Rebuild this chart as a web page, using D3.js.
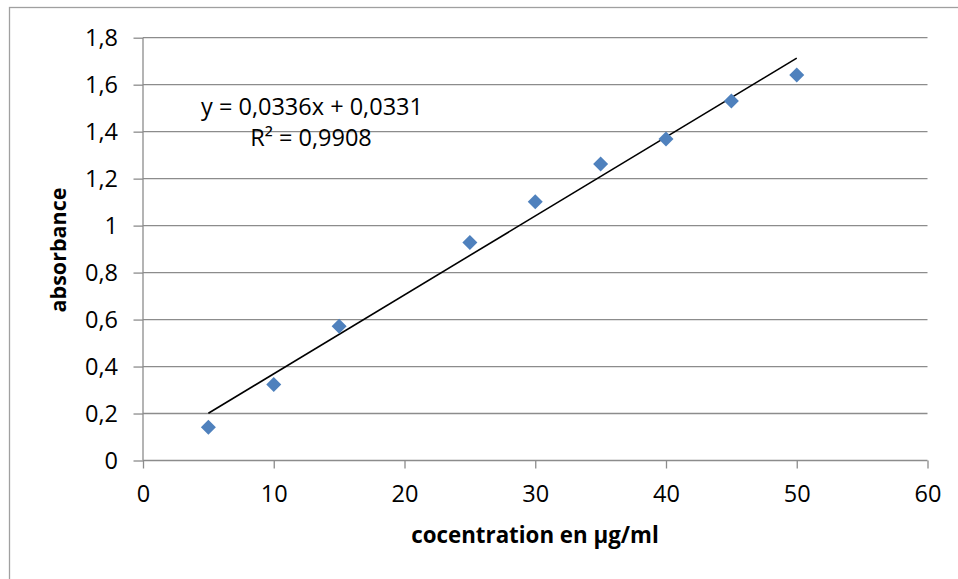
<!DOCTYPE html>
<html><head><meta charset="utf-8">
<script src="https://cdn.jsdelivr.net/npm/d3@7"></script>
<style>
html,body{margin:0;padding:0;background:#fff;}
text{font-family:"Open Sans",sans-serif;}
</style></head>
<body>
<svg id="c" width="958" height="579"></svg>
<script>
const concentrations = [5, 10, 15, 25, 30, 35, 40, 45, 50];
const absorbances = [0.142, 0.324, 0.572, 0.928, 1.102, 1.262, 1.369, 1.530, 1.641];
const slope = 0.0336, intercept = 0.0331;
const equationLabel = "y = 0,0336x + 0,0331";
const r2Label = "R² = 0,9908";
const xTicks = [0, 10, 20, 30, 40, 50, 60];
const yTicks = [0, 0.2, 0.4, 0.6, 0.8, 1, 1.2, 1.4, 1.6, 1.8];
const xTitle = "cocentration en µg/ml";
const yTitle = "absorbance";

const svg = d3.select("#c");
const m = {left: 143, right: 927.5, top: 37.7, bottom: 460.5};
const x = d3.scaleLinear().domain([0, 60]).range([m.left, m.right]);
const y = d3.scaleLinear().domain([0, 1.8]).range([m.bottom, m.top]);
const fmt = d => String(+d.toFixed(1)).replace(".", ",");

svg.append("rect").attr("x", 9.5).attr("y", 7.5).attr("width", 1000).attr("height", 1000)
  .attr("fill", "none").attr("stroke", "#a0a0a0").attr("stroke-width", 1.3);

svg.append("g").selectAll("line").data(yTicks.filter(d => d > 0)).join("line")
  .attr("x1", m.left).attr("x2", m.right)
  .attr("y1", d => y(d)).attr("y2", d => y(d))
  .attr("stroke", "#8c8c8c").attr("stroke-width", 1.3);

const ya = svg.append("g").attr("transform", `translate(${m.left},0)`)
  .call(d3.axisLeft(y).tickValues(yTicks).tickFormat(fmt).tickSize(9).tickPadding(16));
const xa = svg.append("g").attr("transform", `translate(0,${m.bottom})`)
  .call(d3.axisBottom(x).tickValues(xTicks).tickFormat(d => d).tickSize(8).tickPadding(17));
[ya, xa].forEach(a => {
  a.attr("font-size", null).attr("font-family", null);
  a.select(".domain").attr("stroke", "#8c8c8c").attr("stroke-width", 1.3);
  a.selectAll(".tick line").attr("stroke", "#8c8c8c").attr("stroke-width", 1.3);
  a.selectAll("text").style("font-family", "Open Sans").style("font-size", "23.5px").attr("fill", "#000");
});
ya.select(".domain").attr("d", `M0,${m.bottom}V${m.top}`);
ya.selectAll(".tick line").attr("x2", -9.5);
xa.select(".domain").attr("d", `M${m.left},0H${m.right}`);

const x0 = d3.min(concentrations), x1 = d3.max(concentrations);
svg.append("line")
  .attr("x1", x(x0)).attr("y1", y(slope * x0 + intercept))
  .attr("x2", x(x1)).attr("y2", y(slope * x1 + intercept))
  .attr("stroke", "#000").attr("stroke-width", 1.6);

svg.append("g").selectAll("path").data(concentrations).join("path")
  .attr("transform", (d, i) => `translate(${x(d)},${y(absorbances[i])})`)
  .attr("d", "M0,-7.5L7.5,0L0,7.5L-7.5,0Z")
  .attr("fill", "#4f81bd");

svg.append("text").attr("x", 312).attr("y", 115).attr("text-anchor", "middle")
  .style("font-size", "23.5px").text(equationLabel);
svg.append("text").attr("x", 311).attr("y", 145.5).attr("text-anchor", "middle")
  .style("font-size", "23.5px").text(r2Label);

svg.append("text").attr("x", 535).attr("y", 543).attr("text-anchor", "middle")
  .style("font-size", "22.3px").attr("font-weight", "bold").text(xTitle);
svg.append("text").attr("transform", "translate(66,250) rotate(-90)").attr("text-anchor", "middle")
  .style("font-size", "21.5px").attr("font-weight", "bold").text(yTitle);
</script>
</body></html>
